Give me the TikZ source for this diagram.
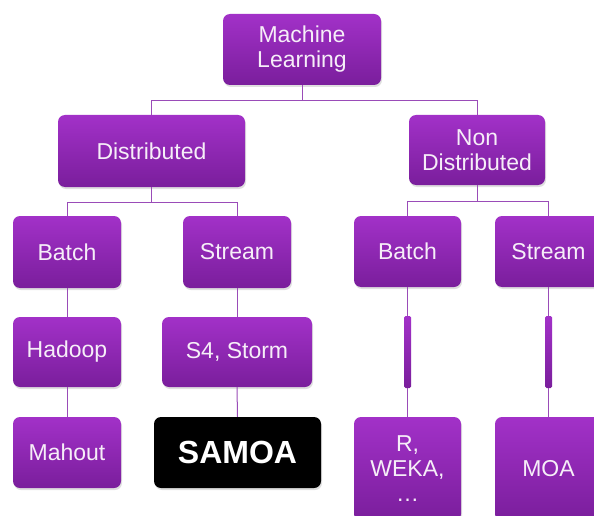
\documentclass[tikz,border=0pt]{standalone}
\usepackage{fontspec}
\setmainfont{Liberation Sans}
\usetikzlibrary{shadows}
\definecolor{ptop}{HTML}{A231C8}
\definecolor{pbot}{HTML}{7A1E9C}
\definecolor{pline}{HTML}{9A4CB8}
\definecolor{ptext}{HTML}{F6EEF8}
\tikzset{
  box/.style={rectangle, rounded corners=7pt, top color=ptop, bottom color=pbot,
    draw=none, text=ptext, align=center, inner sep=0pt,
    font=\fontsize{23}{25}\selectfont,
    drop shadow={opacity=0.25, shadow xshift=1pt, shadow yshift=-2pt}},
  darkbox/.style={rectangle, rounded corners=7pt, fill=black, draw=none, text=white,
    align=center, inner sep=0pt, font=\fontsize{32}{36}\selectfont\bfseries,
    drop shadow={opacity=0.25, shadow xshift=1pt, shadow yshift=-2pt}},
  bar/.style={rectangle, rounded corners=1.5pt, top color=ptop, bottom color=pbot,
    draw=none, inner sep=0pt, minimum width=7pt, minimum height=72pt},
  conn/.style={draw=pline, line width=1pt}
}
\begin{document}
\begin{tikzpicture}[x=1pt,y=-1pt]
\useasboundingbox (0,0) rectangle (594,516);
\clip (0,0) rectangle (594,516);
\fill[white] (0,0) rectangle (594,516);
% nodes
\node[box, minimum width=158pt, minimum height=71pt] (ml) at (302,49.5) {Machine\\Learning};
\node[box, minimum width=187pt, minimum height=72pt] (dist) at (151.5,151) {Distributed};
\node[box, minimum width=136pt, minimum height=70pt] (nond) at (477,150) {Non\\Distributed};
\node[box, minimum width=108pt, minimum height=72pt] (b1) at (67,252) {Batch};
\node[box, minimum width=108pt, minimum height=72pt] (s1) at (237,252) {Stream};
\node[box, minimum width=107pt, minimum height=71pt] (b2) at (407.5,251.5) {Batch};
\node[box, minimum width=107pt, minimum height=71pt] (s2) at (548.5,251.5) {Stream};
\node[box, minimum width=108pt, minimum height=70pt] (had) at (67,352) {Hadoop};
\node[box, minimum width=150pt, minimum height=70pt] (s4) at (237,352) {S4, Storm};
\node[bar] (bar1) at (407.5,352) {};
\node[bar] (bar2) at (548.5,352) {};
\node[box, minimum width=108pt, minimum height=71pt] (mah) at (67,452.5) {Mahout};
\node[darkbox, minimum width=167pt, minimum height=71pt] (samoa) at (237.5,452.5) {SAMOA};
\node[box, minimum width=107pt, minimum height=104pt] (rweka) at (407.5,469) {R,\\WEKA,\\\ldots};
\node[box, minimum width=107pt, minimum height=104pt] (moa) at (548.5,469) {MOA};
% connectors
\draw[conn] (ml.south) -- ++(0,15) -| (dist.north);
\draw[conn] (ml.south) -- ++(0,15) -| (nond.north);
\draw[conn] (dist.south) -- ++(0,15) -| (b1.north);
\draw[conn] (dist.south) -- ++(0,15) -| (s1.north);
\draw[conn] (nond.south) -- ++(0,16) -| (b2.north);
\draw[conn] (nond.south) -- ++(0,16) -| (s2.north);
\draw[conn] (b1.south) -- (had.north);
\draw[conn] (had.south) -- (mah.north);
\draw[conn] (s1.south) -- (s4.north);
\draw[conn] (s4.south) -- (samoa.north);
\draw[conn] (b2.south) -- (bar1.north);
\draw[conn] (bar1.south) -- (rweka.north);
\draw[conn] (s2.south) -- (bar2.north);
\draw[conn] (bar2.south) -- (moa.north);
\end{tikzpicture}
\end{document}
